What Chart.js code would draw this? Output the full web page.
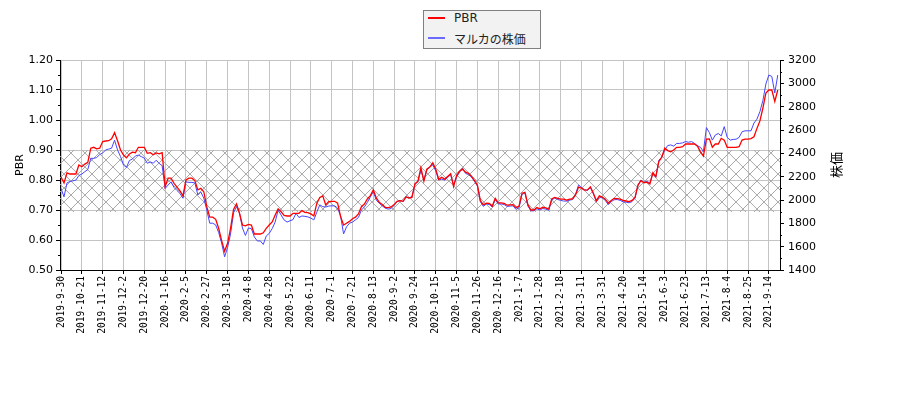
<!DOCTYPE html>
<html>
<head>
<meta charset="utf-8">
<script src="https://cdn.jsdelivr.net/npm/chart.js@4.4.0/dist/chart.umd.min.js"></script>
<style>
  body { margin: 0; background: #fff; }
  #wrap { position: relative; width: 900px; height: 400px; }
  canvas { display: block; }
  #legend { position: absolute; left: 423px; top: 10px; width: 116px; height: 37px;
            border: 1px solid #808080; background: #f2f2f2; box-sizing: content-box;
            font-family: "DejaVu Sans", "Noto Sans CJK JP", sans-serif; font-size: 12px; color: #222; }
  .row { position: absolute; left: 0; height: 16px; display: flex; align-items: center; white-space: nowrap; }
  .sw { display: inline-block; width: 17px; height: 0; border-top: 2px solid; margin-left: 4px; margin-right: 9px; }
</style>
</head>
<body>
<div id="wrap">
  <canvas id="c" width="900" height="400"></canvas>
  <div id="legend"></div>
</div>
<script>
// ---- data ----
const xTickLabels = ["2019-9-30","2019-10-21","2019-11-12","2019-12-2","2019-12-20","2020-1-16","2020-2-5","2020-2-27","2020-3-18","2020-4-8","2020-4-28","2020-5-22","2020-6-11","2020-7-1","2020-7-21","2020-8-13","2020-9-2","2020-9-24","2020-10-15","2020-11-5","2020-11-26","2020-12-16","2021-1-7","2021-1-28","2021-2-18","2021-3-11","2021-3-31","2021-4-20","2021-5-14","2021-6-3","2021-6-23","2021-7-13","2021-8-4","2021-8-25","2021-9-14"];
const tradingDaysPerLabel = 14;   // trading days between two date labels
const tradingDaysPerSample = 2;   // trading days between two samples below
const lastTradingDay = 483.5;

const seriesNames = ["PBR", "マルカの株価"];
const leftAxisTitle = "PBR";
const rightAxisTitle = "株価";

const pbrTicks = [0.5, 0.6, 0.7, 0.8, 0.9, 1.0, 1.1, 1.2];
const priceTicks = [1400, 1600, 1800, 2000, 2200, 2400, 2600, 2800, 3000, 3200];
const bandRange = [0.693, 0.90];

const pbrValues = [
0.81,0.79,0.824,0.82,0.82,0.82,0.85,0.844,0.853,0.859,
0.906,0.909,0.904,0.906,0.928,0.93,0.931,0.937,0.958,0.931,
0.90,0.883,0.874,0.887,0.893,0.891,0.909,0.909,0.909,0.889,
0.891,0.884,0.89,0.887,0.891,0.778,0.806,0.806,0.789,0.776,
0.764,0.747,0.80,0.806,0.806,0.798,0.767,0.772,0.761,0.711,
0.676,0.676,0.669,0.639,0.598,0.563,0.589,0.639,0.702,0.72,
0.689,0.65,0.647,0.652,0.65,0.62,0.62,0.62,0.624,0.639,
0.65,0.66,0.683,0.704,0.694,0.682,0.68,0.68,0.689,0.689,
0.689,0.698,0.692,0.691,0.687,0.68,0.722,0.742,0.747,0.717,
0.728,0.729,0.729,0.723,0.678,0.65,0.656,0.662,0.671,0.676,
0.687,0.711,0.72,0.737,0.748,0.767,0.74,0.726,0.718,0.709,
0.708,0.71,0.718,0.729,0.731,0.729,0.744,0.74,0.742,0.787,
0.796,0.841,0.796,0.836,0.843,0.857,0.836,0.802,0.809,0.803,
0.812,0.821,0.778,0.815,0.829,0.836,0.826,0.822,0.812,0.799,
0.783,0.731,0.717,0.723,0.722,0.713,0.739,0.724,0.724,0.722,
0.716,0.717,0.718,0.708,0.713,0.756,0.759,0.717,0.70,0.70,
0.708,0.704,0.709,0.707,0.703,0.737,0.742,0.739,0.736,0.736,
0.733,0.736,0.737,0.75,0.776,0.773,0.766,0.767,0.777,0.756,
0.731,0.747,0.743,0.736,0.723,0.732,0.739,0.738,0.736,0.732,
0.73,0.728,0.732,0.742,0.783,0.798,0.791,0.793,0.787,0.824,
0.811,0.861,0.876,0.906,0.898,0.894,0.90,0.909,0.909,0.911,
0.92,0.92,0.92,0.92,0.913,0.894,0.88,0.936,0.937,0.909,
0.92,0.92,0.939,0.933,0.909,0.909,0.909,0.909,0.911,0.933,
0.936,0.936,0.938,0.944,0.972,0.997,1.04,1.09,1.10,1.10,
1.062,1.10
];

const priceValues = [
2099,2027,2146,2159,2164,2171,2210,2223,2243,2261,
2357,2357,2364,2390,2403,2429,2436,2444,2513,2429,
2372,2300,2279,2339,2351,2377,2385,2372,2359,2315,
2326,2315,2341,2313,2295,2099,2128,2156,2107,2081,
2056,2015,2156,2151,2151,2146,2043,2069,2017,1914,
1801,1801,1786,1721,1631,1513,1593,1709,1889,1943,
1889,1760,1696,1760,1755,1683,1649,1649,1619,1691,
1714,1755,1811,1914,1871,1829,1811,1822,1832,1886,
1850,1863,1860,1855,1845,1829,1896,1958,1943,1940,
1948,1950,1950,1930,1863,1709,1770,1801,1811,1829,
1850,1914,1940,1979,2027,2071,1999,1971,1950,1930,
1922,1927,1955,1986,1997,1986,2027,2017,2030,2135,
2156,2256,2171,2256,2285,2300,2249,2171,2179,2171,
2192,2218,2130,2197,2238,2274,2228,2218,2197,2159,
2120,1986,1945,1966,1961,1940,2004,1966,1966,1961,
1945,1948,1950,1919,1935,2048,2061,1948,1907,1907,
1925,1914,1927,1922,1912,1999,2017,2004,1997,1991,
1991,1999,2004,2048,2128,2107,2089,2081,2107,2053,
1986,2027,2017,1997,1961,1986,2002,2004,1997,1984,
1981,1976,1986,2017,2128,2171,2151,2159,2146,2228,
2197,2341,2367,2429,2467,2472,2462,2485,2485,2490,
2501,2495,2501,2485,2465,2452,2416,2621,2578,2513,
2557,2570,2549,2629,2537,2513,2519,2521,2537,2585,
2593,2593,2593,2660,2693,2758,2853,2994,3071,3059,
2917,3071
];

// ---- style ----
const redColor = "#ff0000";
const blueColor = "#4545ff";
const gridColor = "#c4c4c4";
const hatchColor = "#a8a8a8";

// ---- legend (HTML, real text) ----
const legendEl = document.getElementById("legend");
[[redColor, 0], [blueColor, 1]].forEach(([col, i]) => {
  const row = document.createElement("div");
  row.className = "row";
  row.style.top = (i === 0 ? -1 : 19) + "px";
  const sw = document.createElement("span");
  sw.className = "sw";
  sw.style.borderTopColor = col;
  if (i === 1) sw.style.borderTopColor = "#6a6aff";
  const tx = document.createElement("span");
  tx.textContent = seriesNames[i];
  row.appendChild(sw); row.appendChild(tx);
  legendEl.appendChild(row);
});

// ---- plugins ----
const hatchPlugin = {
  id: "hatch",
  beforeDatasetsDraw(chart) {
    const { ctx, chartArea: a, scales } = chart;
    const top = scales.y.getPixelForValue(bandRange[1]);
    const bot = scales.y.getPixelForValue(bandRange[0]);
    ctx.save();
    ctx.beginPath();
    ctx.rect(a.left, top, a.right - a.left, bot - top);
    ctx.clip();
    ctx.strokeStyle = hatchColor;
    ctx.lineWidth = 1;
    const h = bot - top;
    const step = 14;
    ctx.beginPath();
    for (let c = a.left - h - step; c < a.right + h + step; c += step) {
      ctx.moveTo(c, top); ctx.lineTo(c + h, bot);
      ctx.moveTo(c, bot); ctx.lineTo(c + h, top);
    }
    ctx.stroke();
    ctx.restore();
  }
};

const minorTickPlugin = {
  id: "minorTicks",
  afterDraw(chart) {
    const { ctx, chartArea: a, scales } = chart;
    ctx.save();
    ctx.strokeStyle = "#000";
    ctx.lineWidth = 1;
    ctx.beginPath();
    for (let i = 0; i < pbrTicks.length - 1; i++) {
      const p = Math.round(scales.y.getPixelForValue((pbrTicks[i] + pbrTicks[i + 1]) / 2)) + 0.5;
      ctx.moveTo(a.left - 2, p); ctx.lineTo(a.left, p);
    }
    for (let i = 0; i < priceTicks.length - 1; i++) {
      const p = Math.round(scales.y2.getPixelForValue((priceTicks[i] + priceTicks[i + 1]) / 2)) + 0.5;
      ctx.moveTo(a.right, p); ctx.lineTo(a.right + 2, p);
    }
    ctx.stroke();
    ctx.restore();
  }
};

const titlePlugin = {
  id: "axisTitles",
  afterDraw(chart) {
    const { ctx, chartArea: a } = chart;
    const cy = (a.top + a.bottom) / 2;
    ctx.save();
    ctx.fillStyle = "#000";
    ctx.textAlign = "center";
    ctx.textBaseline = "middle";
    ctx.font = '11px "DejaVu Sans"';
    ctx.translate(20, cy);
    ctx.rotate(-Math.PI / 2);
    ctx.fillText(leftAxisTitle, 0, 0);
    ctx.restore();
    ctx.save();
    ctx.fillStyle = "#000";
    ctx.textAlign = "center";
    ctx.textBaseline = "middle";
    ctx.font = '13px "Noto Sans CJK JP"';
    ctx.translate(a.right + 56, cy);
    ctx.rotate(-Math.PI / 2);
    ctx.fillText(rightAxisTitle, 0, 0);
    ctx.restore();
  }
};

// ---- chart ----
const toPoints = (arr) => arr.map((v, i) => ({ x: i * tradingDaysPerSample, y: v }));

new Chart(document.getElementById("c"), {
  type: "line",
  data: {
    datasets: [
      { label: seriesNames[0], data: toPoints(pbrValues), yAxisID: "y",
        borderColor: redColor, borderWidth: 1.3, pointRadius: 0, tension: 0, fill: false },
      { label: seriesNames[1], data: toPoints(priceValues), yAxisID: "y2",
        borderColor: blueColor, borderWidth: 1, pointRadius: 0, tension: 0, fill: false }
    ]
  },
  options: {
    responsive: false,
    animation: false,
    devicePixelRatio: 1,
    layout: { padding: { top: 60, left: 0, right: 0, bottom: 0 } },
    plugins: { legend: { display: false }, tooltip: { enabled: false } },
    scales: {
      x: {
        type: "linear",
        min: -0.7,
        max: lastTradingDay,
        afterBuildTicks: (s) => { s.ticks = xTickLabels.map((_, i) => ({ value: i * tradingDaysPerLabel })); },
        afterFit: (s) => { s.height = 130; },
        ticks: {
          autoSkip: false, minRotation: 90, maxRotation: 90, padding: 2, color: "#000",
          font: { family: "DejaVu Sans Mono", size: 9.6 },
          callback: (v) => xTickLabels[Math.round(v / tradingDaysPerLabel)]
        },
        grid: { color: gridColor, tickColor: "#000", tickLength: 4, lineWidth: 1 },
        border: { color: "#000", width: 1 }
      },
      y: {
        position: "left",
        min: pbrTicks[0],
        max: pbrTicks[pbrTicks.length - 1],
        afterBuildTicks: (s) => { s.ticks = pbrTicks.map((v) => ({ value: v })); },
        afterFit: (s) => { s.width = 60; },
        ticks: { padding: 3, color: "#000", font: { family: "DejaVu Sans", size: 11 },
                 callback: (v) => Number(v).toFixed(2) },
        grid: { color: gridColor, tickColor: "#000", tickLength: 4, lineWidth: 1 },
        border: { color: "#000", width: 1 }
      },
      y2: {
        position: "right",
        min: priceTicks[0],
        max: priceTicks[priceTicks.length - 1],
        afterBuildTicks: (s) => { s.ticks = priceTicks.map((v) => ({ value: v })); },
        afterFit: (s) => { s.width = 120; },
        ticks: { padding: 4, color: "#000", font: { family: "DejaVu Sans", size: 11 },
                 callback: (v) => String(v) },
        grid: { drawOnChartArea: false, tickColor: "#000", tickLength: 4 },
        border: { color: "#000", width: 1 }
      }
    }
  },
  plugins: [hatchPlugin, minorTickPlugin, titlePlugin]
});
</script>
</body>
</html>
